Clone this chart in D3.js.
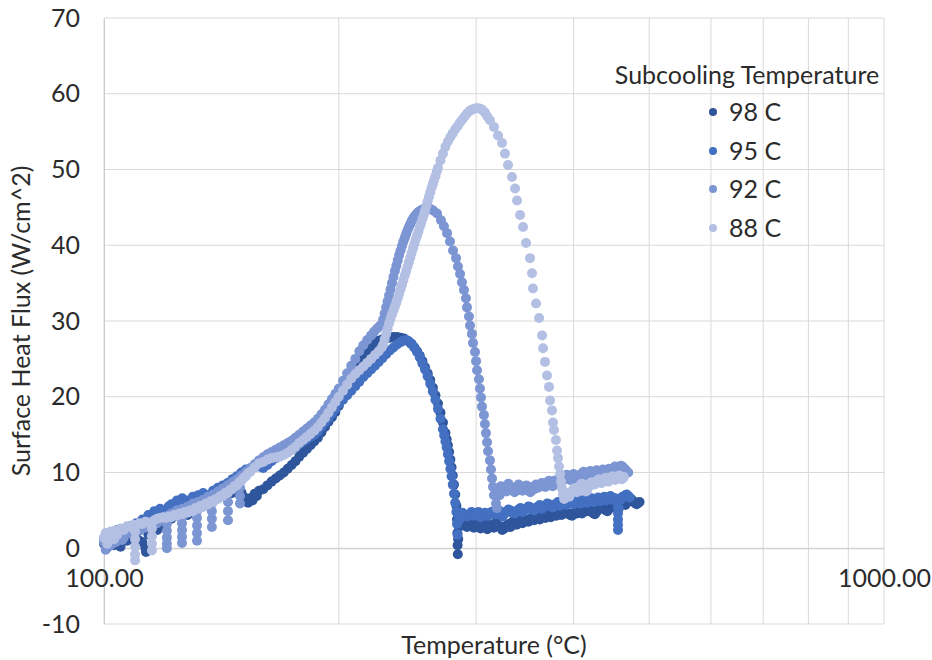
<!DOCTYPE html>
<html>
<head>
<meta charset="utf-8">
<script src="https://cdn.jsdelivr.net/npm/d3@7"></script>
<style>
  html, body { margin: 0; padding: 0; background: #ffffff; }
  svg text { font-family: Lato, "Open Sans", "Liberation Sans", sans-serif; fill: #2b2b2b; }
</style>
</head>
<body>
<svg id="chart" width="932" height="660"></svg>
<script>
// ---------------- data (Temperature °C, Surface heat flux W/cm^2) ----------------
const seriesNames = ["98 C", "95 C", "92 C", "88 C"];
const seriesColors = ["#2f569c", "#4470c2", "#7c95d3", "#b3c0e3"];
const yTicks = [-10, 0, 10, 20, 30, 40, 50, 60, 70];
const xTickLabels = [100, 1000];

const series98 = [[100,0.6],[101,0.1],[102,1.2],[103,0.4],[104,0.8],[105,0.2],[106,1.6],[107,1.0],[108,1.9],[109,1.2],[110,1.4],[111,1.0],[112,0.8],[113,0.0],[113.2,-0.5],[114,1.8],[115,2.2],[116,2.6],[117,2.4],[118,3.0],[120,3.4],[122,3.9],[124,4.3],[126,4.6],[128,4.4],[130,5.0],[132,5.3],[134,5.5],[136,5.9],[138,6.2],[140,6.6],[142,6.9],[144,7.2],[146,7.3],[148,7.6],[150,7.4],[151,6.8],[152,6.2],[153,6.0],[154,6.6],[155,6.3],[156,7.2],[157,6.9],[158,7.6],[160,7.8],[162,8.3],[164,8.8],[166,9.2],[168,9.6],[170,10.0],[172,10.5],[174,11.0],[176,11.5],[178,12.1],[180,12.6],[182,13.1],[184,13.6],[186,14.1],[188,14.6],[190,15.3],[192,16.0],[194,16.7],[196,17.3],[198,18.0],[200,18.8],[202.5,19.9],[205,21.0],[207.5,22.1],[210,23.2],[212.5,24.2],[215,25.1],[217.5,25.9],[220,26.6],[222.5,27.1],[225,27.4],[227.5,27.6],[230,27.7],[232.5,27.8],[235,27.9],[237.5,27.9],[240,27.8],[242.5,27.7],[245,27.4],[247.5,27.0],[250,26.5],[252,26.0],[254,25.4],[256,24.7],[258,23.9],[260,23.1],[262,22.2],[264,21.2],[266,20.2],[268,19.1],[270,17.9],[272,16.6],[274,15.2],[275,14.4],[276,13.6],[277,12.7],[278,11.7],[279,10.7],[280,9.6],[281,8.4],[282,7.1],[283,5.6],[283.5,3.8],[283.8,2.0],[284,0.4],[284.2,-0.8],[284.5,1.2],[285,2.9],[286,3.4],[288,3.0],[290,3.5],[292,2.8],[294,3.1],[296,3.4],[298,2.7],[300,3.0],[302,3.3],[304,2.6],[306,2.9],[308,3.3],[310,2.5],[312,2.9],[314,3.1],[316,2.7],[318,3.4],[320,3.0],[322,2.9],[324,2.4],[326,2.6],[328,3.0],[330,3.2],[332,2.8],[334,3.5],[336,3.2],[338,3.1],[340,3.5],[342,3.7],[344,3.3],[346,3.9],[348,3.6],[350,3.5],[352,3.9],[354,4.0],[356,3.7],[358,4.2],[360,4.0],[362,3.8],[364,4.1],[366,4.3],[368,4.0],[370,4.5],[372,4.3],[374,4.1],[376,4.4],[378,4.6],[380,4.3],[382,4.8],[384,4.5],[386,4.4],[388,4.7],[390,4.9],[392,4.6],[394,4.6],[396,4.4],[398,4.3],[400,4.6],[402,4.8],[404,4.6],[406,5.0],[408,4.8],[410,4.6],[412,4.9],[414,5.1],[416,4.9],[418,5.3],[420,5.0],[422,4.8],[424,4.6],[426,4.5],[428,4.8],[430,5.1],[432,5.3],[434,5.5],[436,5.3],[438,5.2],[440,5.0],[442,4.9],[444,5.2],[446,5.5],[448,5.7],[450,5.8],[452,5.5],[454,5.3],[456,5.5],[458,5.7],[460,5.9],[462,6.1],[464,5.9],[466,5.7],[468,6.0],[470,6.2],[472,6.4],[474,6.5],[476,6.3],[478,6.1],[480,5.9],[482,5.8],[484,6.0],[486,6.1]];

const series95 = [[100,1.2],[101,2.0],[102,1.4],[103,2.2],[104,2.4],[105,1.7],[106,2.0],[107,2.6],[108,2.9],[109,2.5],[110,3.3],[111,3.1],[112,3.8],[113,3.6],[114,4.4],[115,4.1],[116,4.9],[117,4.6],[118,5.2],[119,4.9],[120,5.0],[121,5.5],[122,5.8],[123,5.5],[124,6.3],[125,6.0],[126,6.6],[128,6.3],[130,6.8],[132,7.0],[134,7.3],[136,7.0],[138,7.6],[140,8.0],[142,8.3],[144,8.6],[146,9.1],[148,9.5],[150,10.0],[152,10.4],[154,10.4],[156,10.7],[158,10.8],[160,10.6],[162,11.0],[164,11.5],[166,11.9],[168,12.2],[170,12.5],[172,12.8],[174,13.0],[176,13.3],[178,13.7],[180,14.1],[182,14.4],[184,14.7],[186,15.0],[188,15.4],[190,16.0],[192,16.6],[194,17.2],[196,17.8],[198,18.4],[200,19.0],[202.5,19.6],[205,20.2],[207.5,20.8],[210,21.4],[212.5,22.0],[215,22.6],[217.5,23.1],[220,23.6],[222.5,24.1],[225,24.6],[227.5,25.1],[230,25.6],[232.5,26.1],[235,26.5],[237.5,26.9],[240,27.2],[242,27.4],[244,27.5],[246,27.3],[248,27.0],[250,26.5],[252,25.9],[254,25.2],[256,24.4],[258,23.6],[260,22.7],[262,21.7],[264,20.7],[266,19.6],[268,18.4],[270,17.1],[272,15.7],[273,14.9],[274,14.1],[275,13.3],[276,12.4],[277,11.5],[278,10.5],[279,9.5],[280,8.4],[281,7.2],[282,6.0],[283,4.8],[283.5,3.2],[284,1.8],[284.5,3.6],[285,4.4],[286,3.9],[288,4.7],[290,4.4],[292,4.2],[294,4.5],[296,4.8],[298,4.3],[300,4.5],[302,4.8],[304,4.1],[306,4.4],[308,4.7],[310,4.3],[312,4.4],[314,4.8],[316,4.9],[318,4.5],[320,4.6],[322,4.9],[324,4.2],[326,4.5],[328,4.8],[330,5.1],[332,5.0],[334,4.7],[336,4.6],[338,4.9],[340,5.1],[342,5.3],[344,4.8],[346,5.0],[348,5.2],[350,5.5],[352,5.4],[354,5.1],[356,5.0],[358,5.3],[360,5.5],[362,5.7],[364,5.2],[366,5.4],[368,5.6],[370,5.9],[372,5.8],[374,5.6],[376,5.4],[378,5.7],[380,5.9],[382,6.1],[384,5.6],[386,5.8],[388,6.0],[390,6.2],[392,5.7],[394,5.9],[396,6.1],[398,6.3],[400,5.8],[402,6.0],[404,6.2],[406,6.4],[408,5.9],[410,6.1],[412,6.3],[414,6.5],[416,6.0],[418,6.2],[420,6.4],[422,6.6],[424,6.1],[426,6.3],[428,6.5],[430,6.7],[432,6.2],[434,6.4],[436,6.6],[438,6.8],[440,6.3],[442,6.5],[444,6.7],[446,6.9],[448,6.4],[450,6.6],[452,6.6],[454,6.4],[455,6.2],[456,5.4],[456,4.6],[456,3.8],[456,3.1],[456,2.4],[457,5.2],[458,6.3],[460,6.5],[462,6.8],[464,6.8],[466,7.0],[468,7.1],[470,6.9],[472,6.7]];

const series92 = [[100,0.8],[100.5,-0.2],[101,1.6],[101.5,0.6],[102,0.4],[102.5,1.4],[103,1.9],[103.5,0.8],[104,1.0],[104.5,1.9],[105,2.2],[105.5,1.1],[106,1.4],[107,2.3],[108,2.0],[109,2.4],[110,2.6],[111,2.3],[112,2.9],[113,2.7],[114,3.2],[115,3.0],[116,3.5],[117,3.3],[118,3.9],[119,3.7],[120,4.2],[120.4,3.2],[120.4,2.3],[120.4,1.4],[120.4,0.6],[120.4,0.0],[121,4.3],[122,4.6],[123,4.5],[124,5.0],[125,4.9],[125.9,4.2],[125.9,3.3],[125.9,2.4],[125.9,1.5],[125.9,0.7],[126,5.2],[127,5.1],[128,5.5],[129,5.4],[130,5.9],[131.6,4.9],[131.6,4.0],[131.6,3.0],[131.6,2.0],[131.6,1.0],[132,6.1],[133,6.0],[134,6.4],[135,6.3],[136,6.8],[137.5,5.9],[137.5,4.9],[137.5,3.9],[137.5,2.8],[138,7.1],[139,7.0],[140,7.5],[141,7.4],[142,7.9],[143,7.8],[144,8.3],[144.2,7.3],[144.2,6.1],[144.2,4.9],[144.2,3.7],[145,8.4],[146,8.7],[148,9.1],[149.4,8.0],[149.4,6.9],[149.4,5.9],[150,9.6],[152,10.1],[154,10.6],[156,11.1],[158,11.6],[160,12.0],[162,12.4],[164,12.7],[166,13.0],[168,13.3],[170,13.6],[172,13.9],[174,14.2],[176,14.6],[178,15.0],[180,15.4],[182,15.8],[184,16.2],[186,16.6],[188,17.1],[190,17.7],[192,18.3],[194,19.0],[196,19.7],[198,20.4],[200,21.1],[202.5,22.1],[205,23.1],[207.5,24.1],[210,25.0],[212.5,26.0],[215,26.8],[217.5,27.5],[220,28.1],[222,28.6],[224,29.0],[226,29.4],[228,30.2],[229,31.0],[230,31.8],[231,32.6],[232,33.4],[233,34.2],[234,35.0],[235,35.8],[236,36.6],[237,37.3],[238,38.0],[239,38.7],[240,39.3],[241,39.9],[242,40.5],[243,41.0],[244,41.5],[245,42.0],[246,42.4],[247,42.8],[248,43.2],[249,43.5],[250,43.8],[251,44.0],[252,44.2],[253,44.4],[254,44.5],[255,44.6],[256,44.7],[257,44.8],[258,44.8],[259,44.9],[260.2,44.9],[262,44.8],[264.1,44.6],[267.3,44.2],[270.4,43.3],[272.8,42.5],[275.3,41.6],[277.7,40.5],[280.2,39.3],[282.7,38.3],[284.3,37.2],[286.1,36.2],[287.7,35.1],[289.4,34.1],[291.1,33.0],[292.0,31.8],[293.7,30.6],[294.6,29.4],[296.3,28.3],[297.2,27.1],[299.0,25.9],[299.9,24.7],[300.8,23.5],[302.5,22.3],[303.4,21.1],[304.3,19.9],[305.2,18.7],[307.0,17.6],[307.9,16.4],[308.8,15.2],[309.8,14.0],[310.7,12.8],[312.5,11.6],[313.4,10.4],[314.4,9.2],[315.3,8.1],[316.2,7.0],[318.1,5.9],[319.0,5.3],[320,7.6],[321.5,7.0],[323,8.2],[324.5,7.6],[326,8.0],[328,7.5],[330,8.5],[332,7.9],[334,8.0],[336,7.4],[338,7.8],[340,8.4],[342,8.2],[344,7.6],[346,8.0],[348,8.3],[350,7.7],[352,7.4],[354,8.1],[356,7.8],[358,8.4],[360,8.0],[362,8.2],[364,8.6],[366,8.5],[368,8.1],[370,8.7],[372,8.9],[374,8.4],[376,8.2],[378,8.9],[380,8.6],[382,9.1],[384,9.3],[386,8.8],[388,9.0],[390,9.4],[392,9.7],[394,9.2],[396,9.0],[398,9.6],[400,9.8],[402,9.3],[404,9.1],[406,9.6],[408,9.4],[410,9.9],[412,10.1],[414,9.5],[416,9.3],[418,9.8],[420,10.2],[422,10.0],[424,9.6],[426,9.7],[428,10.3],[430,10.1],[432,9.7],[434,9.8],[436,10.4],[438,10.2],[440,9.8],[442,10.0],[444,10.5],[446,10.4],[448,10.0],[450,10.6],[452,10.8],[454,10.2],[456,10.0],[458,10.5],[460,10.9],[462,10.8],[464,10.6],[466,10.4],[468,10.1],[470,10.0]];

const series88 = [[100,1.4],[100.5,2.0],[101,0.6],[101.5,1.5],[102,2.2],[102.5,1.6],[103,1.2],[103.5,2.3],[104,1.8],[105,2.6],[106,2.4],[107,2.9],[108,2.8],[109,3.1],[109.6,2.2],[109.6,1.2],[109.6,0.2],[109.6,-0.8],[109.6,-1.6],[110,3.0],[111,3.3],[112,3.2],[113,3.5],[114,3.4],[115.2,2.6],[115.2,1.6],[115.2,0.6],[115.2,-0.3],[116,3.7],[117,3.9],[118,4.0],[119,4.1],[120,4.0],[121,4.2],[122,4.1],[123,4.4],[124,4.3],[125,4.6],[126,4.5],[127,4.8],[128,4.7],[129,5.0],[130,4.9],[131,5.3],[132,5.2],[133,5.6],[134,5.5],[135,5.9],[136,5.8],[137,6.2],[138,6.1],[139,6.5],[140,6.5],[141,6.9],[142,6.9],[143,7.3],[144,7.3],[145,7.7],[146,7.8],[147,8.2],[148,8.3],[149,8.7],[150,8.9],[151,9.3],[152,9.5],[153,9.9],[154,10.1],[156,10.7],[158,11.2],[160,11.4],[162,11.7],[164,11.9],[166,12.0],[168,12.1],[170,12.3],[172,12.6],[174,13.0],[176,13.4],[178,13.9],[180,14.3],[182,14.7],[184,15.1],[186,15.5],[188,16.0],[190,16.6],[192,17.2],[194,17.9],[196,18.6],[198,19.3],[200,20.0],[202.5,20.8],[205,21.6],[207.5,22.4],[210,23.0],[212.5,23.5],[215,24.0],[217.5,24.5],[220,25.0],[222.5,25.5],[225,26.0],[227,26.5],[228,26.9],[229,27.6],[230,28.3],[231,29.0],[232,29.7],[233,30.3],[234,30.9],[235,31.4],[236,31.9],[237,32.4],[238,33.0],[239,33.6],[240,34.2],[241,34.8],[242,35.4],[243,36.0],[244,36.6],[245,37.2],[246,37.8],[247,38.4],[248,39.0],[249,39.6],[250,40.2],[251,40.8],[252,41.3],[253,41.8],[254,42.4],[255,42.9],[256,43.5],[257,44.0],[258,44.6],[259,45.2],[260,45.8],[261,46.4],[262,47.0],[263,47.6],[264,48.1],[265,48.6],[266,49.1],[267,49.7],[268,50.2],[270,51.2],[272,52.1],[274,53.0],[276,53.7],[278,54.3],[280,54.8],[282,55.3],[284,55.7],[286,56.2],[288,56.6],[290,57.0],[292,57.4],[294,57.7],[296,57.9],[298,58.0],[300,58.1],[302,58.1],[304,58.0],[306,57.8],[308,57.5],[310,57.0],[312.5,56.5],[316.2,55.6],[320.0,54.5],[323.8,53.5],[326.6,52.1],[329.6,50.6],[333.5,49.0],[336.5,47.5],[338.5,45.9],[341.5,44.0],[344.5,42.4],[347.6,40.3],[351.7,38.3],[353.8,36.3],[354.8,34.3],[358.0,32.3],[361.2,30.4],[364.4,28.1],[365.5,26.4],[367.6,24.6],[369.8,22.8],[372.0,21.3],[373.1,19.5],[375.3,18.2],[376.4,16.6],[377.5,15.6],[379.7,14.3],[380.9,12.9],[382.0,11.9],[383.1,10.8],[384.3,9.8],[385.4,8.8],[386.5,7.9],[387.7,7.1],[389,6.5],[390,6.7],[391,7.2],[392,7.3],[393.5,6.9],[395,6.8],[396.5,7.3],[398,7.5],[399.5,7.8],[401,7.9],[402.5,7.5],[404,7.4],[405.5,7.8],[407,8.1],[408.5,8.4],[410,8.5],[411.5,8.2],[413,8.0],[414.5,7.5],[416,7.6],[417.5,8.0],[419,8.3],[420.5,8.6],[422,8.7],[423.5,8.5],[425,8.4],[426.5,8.6],[428,8.8],[429.5,9.0],[431,9.1],[432.5,8.8],[434,8.6],[435.5,8.8],[437,9.0],[438.5,9.2],[440,9.3],[441.5,9.0],[443,8.8],[444.5,9.0],[446,9.2],[447.5,9.4],[449,9.5],[450.5,9.2],[452,9.0],[453.5,9.1],[455,9.3],[456.5,9.5],[458,9.6],[459.5,9.3],[461,9.1],[462.5,9.2],[464,9.4]];

const allSeries = [series98, series95, series92, series88];

// ---------------- chart ----------------
const svg = d3.select("#chart");
const x = d3.scaleLog().domain([100, 1000]).range([104, 884]);
const y = d3.scaleLinear().domain([-10, 70]).range([624, 18]);
const FS = 25;

// gridlines
const grid = svg.append("g");
grid.selectAll("line.h").data(yTicks).join("line")
  .attr("x1", x(100)).attr("x2", x(1000))
  .attr("y1", d => y(d)).attr("y2", d => y(d))
  .attr("stroke", "#d9d9d9").attr("stroke-width", 1);
grid.selectAll("line.v").data(x.ticks()).join("line")
  .attr("x1", d => x(d)).attr("x2", d => x(d))
  .attr("y1", y(70)).attr("y2", y(-10))
  .attr("stroke", "#d9d9d9").attr("stroke-width", 1);

// y axis
const yAxis = svg.append("g").attr("transform", `translate(${x(100)},0)`)
  .call(d3.axisLeft(y).tickValues(yTicks).tickFormat(d => String(d)).tickSize(0).tickPadding(24));
yAxis.select(".domain").attr("stroke", "#cccccc");
yAxis.selectAll("text").style("font-size", FS + "px").attr("fill", "#2b2b2b");

// x axis crossing at 0
const xAxis = svg.append("g").attr("transform", `translate(0,${y(0)})`)
  .call(d3.axisBottom(x).tickValues(xTickLabels).tickFormat(d3.format(".2f")).tickSize(0).tickPadding(21));
xAxis.select(".domain").attr("stroke", "#cccccc");
xAxis.selectAll("text").style("font-size", FS + "px").attr("fill", "#2b2b2b");

// series
const R = 5;
allSeries.forEach((s, i) => {
  svg.append("g").selectAll("circle").data(s).join("circle")
    .attr("cx", d => x(d[0])).attr("cy", d => y(d[1])).attr("r", R)
    .attr("fill", seriesColors[i]);
});

// axis titles
svg.append("text").attr("transform", `translate(30,${(y(70)+y(-10))/2}) rotate(-90)`)
  .attr("text-anchor", "middle").style("font-size", FS + "px")
  .text("Surface Heat Flux (W/cm^2)");
svg.append("text").attr("x", 494).attr("y", 654)
  .attr("text-anchor", "middle").style("font-size", FS + "px")
  .text("Temperature (°C)");

// legend
const lg = svg.append("g");
lg.append("text").attr("x", 747).attr("y", 75).attr("dy", "0.35em")
  .attr("text-anchor", "middle").style("font-size", FS + "px").text("Subcooling Temperature");
const legY = [112, 151, 189, 228];
seriesNames.forEach((n, i) => {
  lg.append("circle").attr("cx", 713).attr("cy", legY[i]).attr("r", 4).attr("fill", seriesColors[i]);
  lg.append("text").attr("x", 729).attr("y", legY[i]).attr("dy", "0.35em")
    .style("font-size", FS + "px").text(n);
});
</script>
</body>
</html>
